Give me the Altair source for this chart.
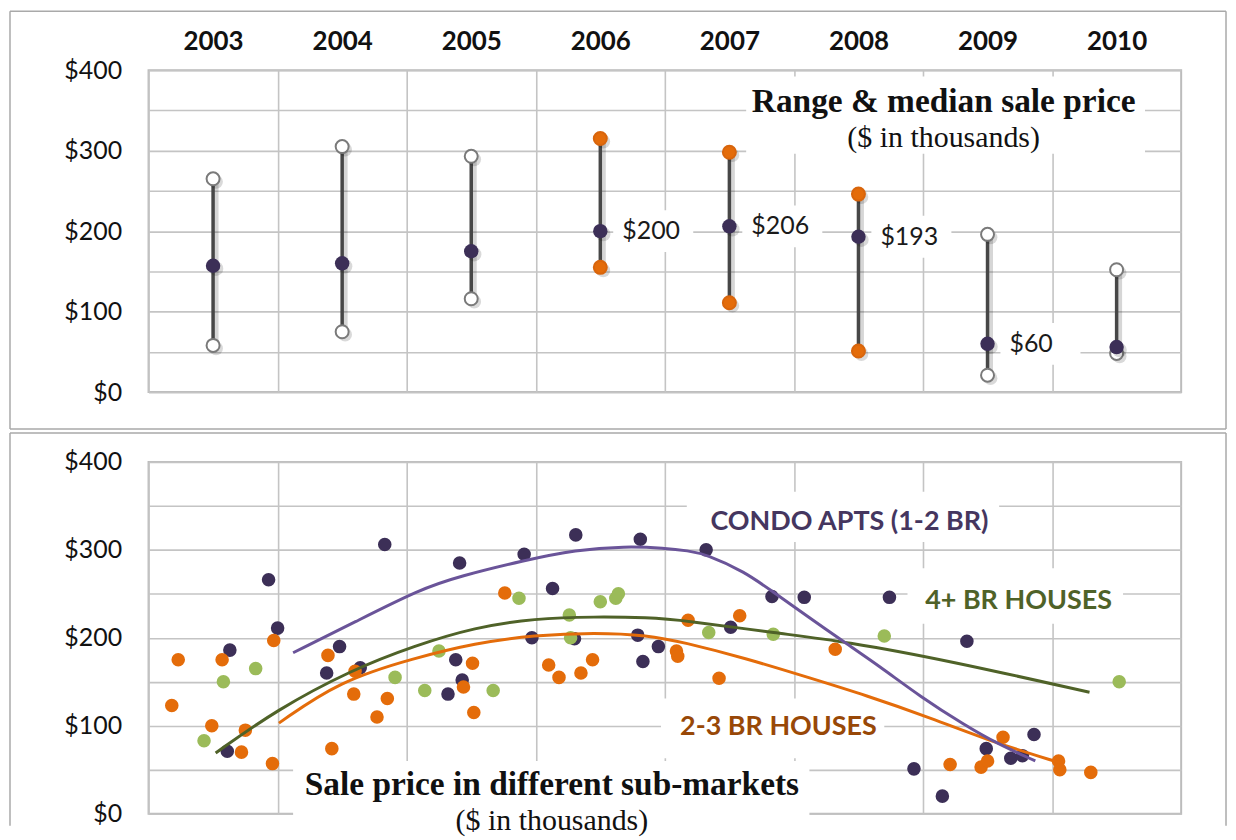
import altair as alt
import pandas as pd

# ---------------- top panel data ----------------
years = [2003, 2004, 2005, 2006, 2007, 2008, 2009, 2010]
low = [58, 75, 116, 155, 111, 51, 21, 48]
median = [157, 160, 175, 200, 206, 193, 60, 56]
high = [265, 305, 293, 315, 298, 246, 196, 152]
highlight_years = [2006, 2007, 2008]
labelled_years = [2006, 2007, 2008, 2009]

# ---------------- bottom panel data ----------------
condo_x = [2003.61, 2003.63, 2003.93, 2004.00, 2004.38, 2004.48, 2004.64, 2004.83, 2005.32, 2005.38,
           2005.41, 2005.43, 2005.91, 2005.97, 2006.13, 2006.30, 2006.31, 2006.79, 2006.81, 2006.83,
           2006.95, 2007.32, 2007.51, 2007.83, 2008.08, 2008.74, 2008.93, 2009.15, 2009.34, 2009.49,
           2009.68, 2009.77, 2009.86]
condo_y = [71, 186, 266, 211, 160, 190, 166, 306, 136, 175,
           285, 152, 295, 200, 256, 199, 317, 203, 312, 173,
           190, 300, 212, 247, 246, 246, 51, 20, 196, 74,
           63, 66, 90]

br23_x = [2003.18, 2003.23, 2003.49, 2003.57, 2003.72, 2003.75, 2003.96, 2003.97, 2004.39, 2004.42,
          2004.59, 2004.60, 2004.77, 2004.85, 2005.44, 2005.51, 2005.52, 2005.76, 2006.10, 2006.18,
          2006.35, 2006.44, 2007.09, 2007.10, 2007.18, 2007.42, 2007.58, 2008.32, 2009.21, 2009.45,
          2009.50, 2009.62, 2010.05, 2010.06, 2010.30]
br23_y = [123, 175, 100, 175, 70, 95, 57, 197, 180, 74,
          136, 162, 110, 131, 144, 171, 115, 251, 169, 155,
          160, 175, 185, 179, 220, 154, 225, 187, 56, 53,
          60, 87, 60, 50, 47]

br4_x = [2003.43, 2003.58, 2003.83, 2004.91, 2005.14, 2005.25, 2005.67, 2005.87, 2006.26, 2006.27,
         2006.50, 2006.62, 2006.64, 2007.34, 2007.84, 2008.70, 2010.52]
br4_y = [83, 150, 165, 155, 140, 185, 140, 245, 226, 200,
         241, 245, 250, 206, 204, 202, 150]

# trend curves
condo_fit_x = [2004.12, 2004.60, 2005.10, 2005.41, 2005.91, 2006.31, 2006.69, 2007.00, 2007.18, 2007.32,
               2007.62, 2007.83, 2008.13, 2008.36, 2008.67, 2008.98, 2009.32, 2009.57, 2009.87]
condo_fit_y = [183, 218, 255, 270, 288, 300, 304, 302, 299, 295,
               275, 253, 222, 198, 167, 133, 101, 80, 60]
br4_fit_x = [2003.52, 2003.99, 2004.58, 2005.06, 2005.53, 2005.99, 2006.46, 2006.87, 2007.14, 2007.88,
             2008.39, 2009.20, 2010.29]
br4_fit_y = [69, 118, 164, 191, 212, 222, 224, 223, 220, 205,
             196, 174, 138]
br23_fit_x = [2004.01, 2004.48, 2005.06, 2005.53, 2005.99, 2006.46, 2006.87, 2007.14, 2007.62, 2008.13,
              2008.55, 2009.06, 2009.57, 2010.06]
br23_fit_y = [103, 151, 177, 194, 203, 206, 203, 195, 177, 154,
              135, 109, 80, 58]

# ---------------- styling ----------------
W = 1036
H_TOP = 323
H_BOT = 353
GRID = "#c4c4c4"
FRAME = "#a9a9a9"
SANS = "Lato"
SERIF = "Liberation Serif"
PURPLE_DOT = "#3c2f57"
ORANGE = "#e46c0a"
GREEN_DOT = "#9bbb59"

xs = alt.Scale(domain=[2003, 2011], nice=False, zero=False)
ys = alt.Scale(domain=[0, 400], nice=False, zero=True)

y_axis = alt.Axis(values=list(range(0, 401, 50)),
                  labelExpr="datum.value % 100 === 0 ? '$' + datum.value : ''",
                  ticks=False, tickSize=0, domain=False, grid=True, gridColor=GRID, gridWidth=1.6,
                  labelFont=SANS, labelFontSize=25, labelColor="#111111", labelPadding=27,
                  labelFlush=False, labelOverlap=False, title=None)

x_axis_top = alt.Axis(orient="top", values=years, format="d", labelOffset=W / 16,
                      labelFlush=False, labelOverlap=False, ticks=False, tickSize=0, domain=False,
                      grid=True, gridColor=GRID, gridWidth=1.6, labelFont=SANS, labelFontWeight="bold",
                      labelFontSize=26, labelColor="#111111", labelPadding=16, title=None)

x_axis_bot = alt.Axis(values=years, labels=False, ticks=False, tickSize=0, domain=False, grid=True,
                      gridColor=GRID, gridWidth=1.6, title=None)

one = pd.DataFrame({"a": [0]})


def frame(x, x2, y, y2):
    return alt.Chart(one).mark_rule(color=FRAME, strokeWidth=1.5).encode(
        x=alt.value(x), x2=alt.value(x2), y=alt.value(y), y2=alt.value(y2))


# ---------------- top panel ----------------
top_df = pd.DataFrame({"year": years, "low": low, "median": median, "high": high})
top_df["kind"] = ["hl" if y in highlight_years else "open" for y in years]
top_df["label"] = ["$" + str(m) if y in labelled_years else "" for y, m in zip(years, median)]

ends_df = pd.concat([
    top_df[["year", "kind"]].assign(value=top_df["low"]),
    top_df[["year", "kind"]].assign(value=top_df["high"]),
])

tbase = alt.Chart(top_df).transform_calculate(xc="datum.year + 0.5")

t_axes = tbase.mark_rule(opacity=0).encode(
    x=alt.X("xc:Q", scale=xs, axis=x_axis_top, title=None),
    y=alt.Y("median:Q", scale=ys, axis=y_axis, title=None),
)

title_box_df = pd.DataFrame({"x": [2007.63], "x2": [2010.72], "y": [296], "y2": [392]})
t_title_box = alt.Chart(title_box_df).mark_rect(color="white").encode(
    x=alt.X("x:Q", scale=xs, title=None), x2="x2:Q",
    y=alt.Y("y:Q", scale=ys, title=None), y2="y2:Q")

t_label_box = tbase.transform_filter("datum.label != ''").transform_calculate(
    bx="datum.year + 0.6", bx2="datum.year + 1.22", by="datum.median - 26", by2="datum.median + 26"
).mark_rect(color="white").encode(
    x=alt.X("bx:Q", scale=xs, title=None), x2="bx2:Q",
    y=alt.Y("by:Q", scale=ys, title=None), y2="by2:Q")

t_rule_shadow = tbase.mark_rule(color="#000000", opacity=0.16, strokeWidth=5, xOffset=3, yOffset=3).encode(
    x=alt.X("xc:Q", scale=xs, title=None), y=alt.Y("low:Q", scale=ys, title=None), y2="high:Q")

t_rule = tbase.mark_rule(color="#474747", strokeWidth=3.5).encode(
    x=alt.X("xc:Q", scale=xs, title=None), y=alt.Y("low:Q", scale=ys, title=None), y2="high:Q")

ebase = alt.Chart(ends_df).transform_calculate(xc="datum.year + 0.5")
t_end_shadow = ebase.mark_circle(color="#000000", opacity=0.15, size=190, xOffset=3, yOffset=3).encode(
    x=alt.X("xc:Q", scale=xs, title=None), y=alt.Y("value:Q", scale=ys, title=None))
t_ends = ebase.mark_point(shape="circle", filled=True, size=170, strokeWidth=2, opacity=1).encode(
    x=alt.X("xc:Q", scale=xs, title=None),
    y=alt.Y("value:Q", scale=ys, title=None),
    fill=alt.Fill("kind:N", scale=alt.Scale(domain=["open", "hl"], range=["#ffffff", ORANGE]), legend=None),
    stroke=alt.Stroke("kind:N", scale=alt.Scale(domain=["open", "hl"], range=["#7a7a7a", "#d8650c"]), legend=None),
)

t_med_shadow = tbase.mark_circle(color="#000000", opacity=0.15, size=210, xOffset=3, yOffset=3).encode(
    x=alt.X("xc:Q", scale=xs, title=None), y=alt.Y("median:Q", scale=ys, title=None))
t_med = tbase.mark_circle(color=PURPLE_DOT, size=210, opacity=1).encode(
    x=alt.X("xc:Q", scale=xs, title=None), y=alt.Y("median:Q", scale=ys, title=None))

t_labels = tbase.transform_filter("datum.label != ''").mark_text(
    align="left", baseline="middle", dx=22, font=SANS, fontSize=25, color="#1a1a1a").encode(
    x=alt.X("xc:Q", scale=xs, title=None), y=alt.Y("median:Q", scale=ys, title=None), text="label:N")

top_text_df = pd.DataFrame({"x": [2009.16], "y": [361], "y2": [316],
                            "t1": ["Range & median sale price"], "t2": ["($ in thousands)"]})
t_title = alt.Chart(top_text_df).mark_text(font=SERIF, fontWeight="bold", fontSize=33.5, color="#111111",
                                            baseline="middle").encode(
    x=alt.X("x:Q", scale=xs, title=None), y=alt.Y("y:Q", scale=ys, title=None), text="t1:N")
t_sub = alt.Chart(top_text_df).mark_text(font=SERIF, fontSize=30, color="#111111", baseline="middle").encode(
    x=alt.X("x:Q", scale=xs, title=None), y=alt.Y("y2:Q", scale=ys, title=None), text="t2:N")

top = alt.layer(
    t_axes, t_title_box, t_label_box, t_rule_shadow, t_rule, t_end_shadow, t_ends, t_med_shadow, t_med,
    t_labels, t_title, t_sub,
    frame(-139, W + 45, -59, -59),
    frame(-139, -139, -59, H_TOP + 37),
    frame(W + 45, W + 45, -59, H_TOP + 37),
    frame(-139, W + 45, H_TOP + 37, H_TOP + 37),
).properties(width=W, height=H_TOP)

# ---------------- bottom panel ----------------
pts_df = pd.concat([
    pd.DataFrame({"series": "condo", "x": condo_x, "y": condo_y}),
    pd.DataFrame({"series": "br23", "x": br23_x, "y": br23_y}),
    pd.DataFrame({"series": "br4", "x": br4_x, "y": br4_y}),
], ignore_index=True)
pts_df["order"] = range(len(pts_df))

b_axes = alt.Chart(pts_df).mark_rule(opacity=0).encode(
    x=alt.X("x:Q", scale=xs, axis=x_axis_bot, title=None),
    y=alt.Y("y:Q", scale=ys, axis=y_axis, title=None))

box_df = pd.DataFrame({
    "x": [2004.12, 2006.97, 2008.88, 2007.17],
    "x2": [2008.12, 2008.70, 2010.55, 2009.59],
    "y": [-5, 63, 216, 309],
    "y2": [60, 131, 279, 366],
})
b_boxes = alt.Chart(box_df).mark_rect(color="white").encode(
    x=alt.X("x:Q", scale=xs, title=None), x2="x2:Q",
    y=alt.Y("y:Q", scale=ys, title=None), y2="y2:Q")

b_pts = alt.Chart(pts_df).mark_circle(size=185, opacity=1).encode(
    x=alt.X("x:Q", scale=xs, title=None),
    y=alt.Y("y:Q", scale=ys, title=None),
    color=alt.Color("series:N", scale=alt.Scale(domain=["condo", "br23", "br4"],
                                                range=[PURPLE_DOT, ORANGE, GREEN_DOT]), legend=None),
    order="order:Q",
)


def fit_line(xv, yv, color):
    df = pd.DataFrame({"x": xv, "y": yv})
    return alt.Chart(df).mark_line(strokeWidth=3, interpolate="basis", color=color).encode(
        x=alt.X("x:Q", scale=xs, title=None), y=alt.Y("y:Q", scale=ys, title=None))


lab_df = pd.DataFrame({
    "text": ["CONDO APTS (1-2 BR)", "4+ BR HOUSES", "2-3 BR HOUSES"],
    "x": [2008.43, 2009.74, 2007.88],
    "y": [332, 242, 98],
})


def cat_label(i, color):
    return alt.Chart(lab_df.iloc[[i]]).mark_text(font=SANS, fontWeight="bold", fontSize=27, color=color,
                                                 baseline="middle").encode(
        x=alt.X("x:Q", scale=xs, title=None), y=alt.Y("y:Q", scale=ys, title=None), text="text:N")


bot_text_df = pd.DataFrame({"x": [2006.125], "y": [33], "y2": [-8],
                            "t1": ["Sale price in different sub-markets"], "t2": ["($ in thousands)"]})
b_title = alt.Chart(bot_text_df).mark_text(font=SERIF, fontWeight="bold", fontSize=33.5, color="#111111",
                                            baseline="middle").encode(
    x=alt.X("x:Q", scale=xs, title=None), y=alt.Y("y:Q", scale=ys, title=None), text="t1:N")
b_sub = alt.Chart(bot_text_df).mark_text(font=SERIF, fontSize=30, color="#111111", baseline="middle").encode(
    x=alt.X("x:Q", scale=xs, title=None), y=alt.Y("y2:Q", scale=ys, title=None), text="t2:N")

bottom = alt.layer(
    b_axes, b_boxes, b_pts,
    fit_line(br23_fit_x, br23_fit_y, "#e46c0a"),
    fit_line(br4_fit_x, br4_fit_y, "#4f6228"),
    fit_line(condo_fit_x, condo_fit_y, "#6a5499"),
    cat_label(0, "#45365f"), cat_label(1, "#4f6228"), cat_label(2, "#984807"),
    b_title, b_sub,
    frame(-139, W + 45, -29, -29),
    frame(-139, -139, -29, H_BOT + 12),
    frame(W + 45, W + 45, -29, H_BOT + 12),
).properties(width=W, height=H_BOT)

chart = alt.vconcat(top, bottom, spacing=0).resolve_scale(
    color="independent", fill="independent", stroke="independent"
).properties(padding=0).configure_view(
    stroke="#bcbcbc", strokeWidth=2).configure_concat(spacing=0)

chart.save("out.html", embed_options={"renderer": "svg", "actions": False})
